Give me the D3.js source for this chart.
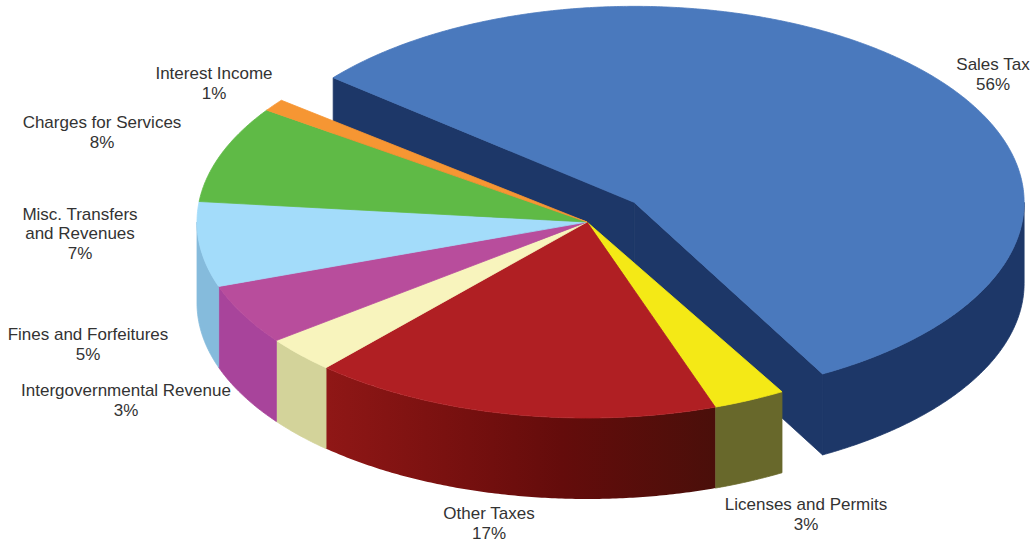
<!DOCTYPE html>
<html>
<head>
<meta charset="utf-8">
<script src="https://cdn.jsdelivr.net/npm/d3@7"></script>
<style>
  html, body { margin: 0; padding: 0; background: #fff; }
  svg { display: block; }
  text { font-family: "Liberation Sans", Arial, sans-serif; font-size: 17px; fill: #333; text-anchor: middle; }
</style>
</head>
<body>
<div id="chart"></div>
<script>
// Revenue shares, in percent, clockwise from the exploded Sales Tax slice
const categories = ["Sales Tax", "Licenses and Permits", "Other Taxes", "Intergovernmental Revenue",
  "Fines and Forfeitures", "Misc. Transfers and Revenues", "Charges for Services", "Interest Income"];
const shares = [56, 3, 17, 3, 5, 7, 8, 1];

// Label wrapping and placement
const labelLines = [["Sales Tax"], ["Licenses and Permits"], ["Other Taxes"], ["Intergovernmental Revenue"],
  ["Fines and Forfeitures"], ["Misc. Transfers", "and Revenues"], ["Charges for Services"], ["Interest Income"]];
const labelCentres = [[993, 64], [806, 504], [489, 513], [126, 390], [88, 334], [80, 214], [102, 122], [214, 73]];

// Surface colours
const topColours = ["#4a79bd", "#f4e916", "#b01f23", "#f8f4bd", "#b84d9c", "#a3dcfa", "#5fba46", "#f69633"];
const wallColours = ["#1d3768", "#68682b", "url(#otherWall)", "#d3d39a", "#a8449b", "#85bbdc", "#4c9538", "#c47829"];

const width = 1034, height = 543, depth = 81, explode = 0.157;
const rad = Math.PI / 180;
const startAngle = -50.8 * rad;
// The exploded slice and the main disc sit at slightly different view rotations
const salesTurn = 0.3 * rad, discTurn = -0.8 * rad;

// Unit circle to the flattened disc on screen
const x = d3.scaleLinear().domain([-1, 1]).range([197, 977]);
const y = d3.scaleLinear().domain([-1, 1]).range([26, 418]);
const xc = x(0), yc = y(0);

const svg = d3.select("#chart").append("svg").attr("width", width).attr("height", height);

const grad = svg.append("defs").append("linearGradient")
  .attr("id", "otherWall").attr("gradientUnits", "userSpaceOnUse")
  .attr("x1", 328).attr("x2", 717).attr("y1", 0).attr("y2", 0);
[[0, "#8f1716"], [0.3, "#7a1110"], [0.6, "#640c0b"], [1, "#4a0f0a"]].forEach(([o, c]) =>
  grad.append("stop").attr("offset", o).attr("stop-color", c));

const pie = d3.pie().sort(null).startAngle(startAngle).endAngle(startAngle + 2 * Math.PI);
const slices = pie(shares).map((s, i) => {
  const turn = i === 0 ? salesTurn : discTurn;
  const a0 = s.startAngle + turn, a1 = s.endAngle + turn;
  const mid = (a0 + a1) / 2;
  const dx = i === 0 ? (x(Math.sin(mid)) - xc) * explode : 0;
  const dy = i === 0 ? (y(-Math.cos(mid)) - yc) * explode : 0;
  return { a0, a1, i, dx, dy };
});

const closed = d3.line().curve(d3.curveLinearClosed);
const rim = (s, a, lift = 0) => [x(Math.sin(a)) + s.dx, y(-Math.cos(a)) + s.dy + lift];
const arcAngles = (a0, a1) => {
  const n = Math.max(2, Math.ceil((a1 - a0) / (0.5 * rad)));
  return d3.range(n + 1).map(k => a0 + (a1 - a0) * k / n);
};

// Top face: centre plus the rim arc
function topPath(s) {
  const centre = [xc + s.dx, yc + s.dy];
  return closed([centre, ...arcAngles(s.a0, s.a1).map(a => rim(s, a))]);
}

// Outer wall: only the front half of the rim faces the viewer
function wallPath(s) {
  const a0 = Math.max(s.a0, 90 * rad), a1 = Math.min(s.a1, 270 * rad);
  if (a1 <= a0) return null;
  const angles = arcAngles(a0, a1);
  return closed([...angles.map(a => rim(s, a)), ...angles.slice().reverse().map(a => rim(s, a, depth))]);
}

// Cut face of a slice, from the centre out to the rim at angle a
function cutPath(s, a) {
  const c = [xc + s.dx, yc + s.dy], r = rim(s, a);
  return closed([c, r, [r[0], r[1] + depth], [c[0], c[1] + depth]]);
}

const paint = (d, fill) => svg.append("path").attr("d", d).attr("fill", fill)
  .attr("stroke", fill.startsWith("url") ? "none" : fill).attr("stroke-width", 0.8);

// The exploded slice sits behind the rest of the pie
const sales = slices[0];
paint(cutPath(sales, sales.a0), wallColours[0]);
paint(cutPath(sales, sales.a1), wallColours[0]);
paint(wallPath(sales), wallColours[0]);
paint(topPath(sales), topColours[0]);

const rest = slices.slice(1);
rest.forEach(s => { const d = wallPath(s); if (d) paint(d, wallColours[s.i]); });
rest.forEach(s => paint(topPath(s), topColours[s.i]));

// Category name and share
slices.forEach(s => {
  const [cx, cy] = labelCentres[s.i];
  const lines = [...labelLines[s.i], d3.format("d")(shares[s.i]) + "%"];
  const t = svg.append("text").attr("aria-label", categories[s.i]);
  lines.forEach((line, k) => t.append("tspan")
    .attr("x", cx).attr("y", cy + k * (lines.length > 2 ? 19.5 : 20.5) + 5.5).text(line));
});
</script>
</body>
</html>
